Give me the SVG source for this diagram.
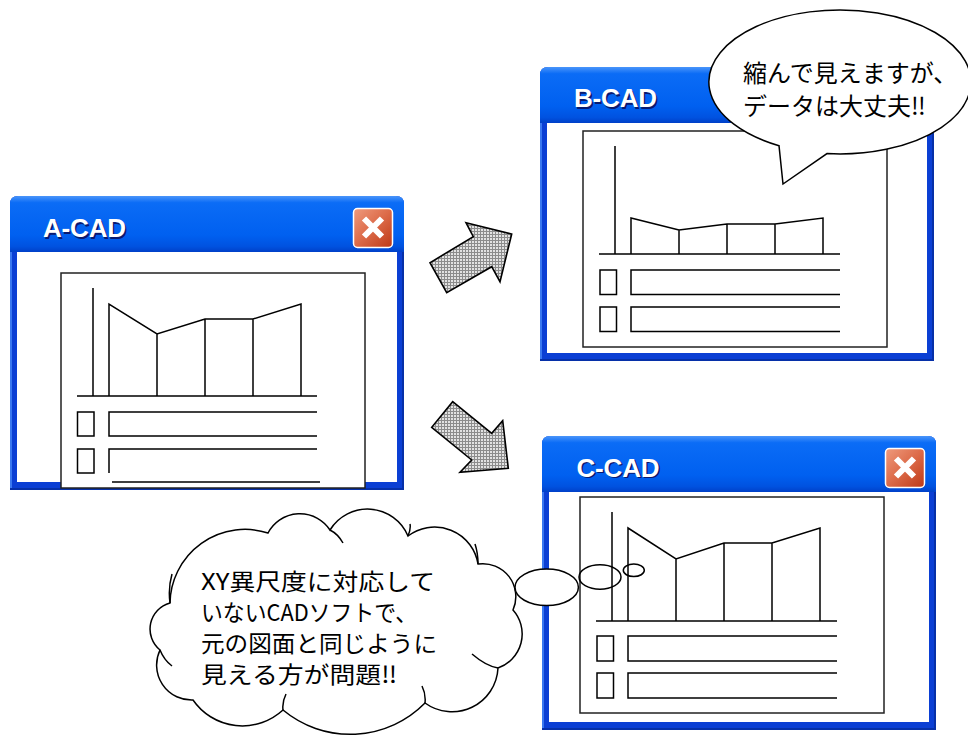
<svg xmlns="http://www.w3.org/2000/svg" width="968" height="736" viewBox="0 0 968 736">
  <defs>
    <linearGradient id="titleGrad" x1="0" y1="0" x2="0" y2="1">
      <stop offset="0" stop-color="#4a95fa"/>
      <stop offset="0.12" stop-color="#0b6cf6"/>
      <stop offset="0.7" stop-color="#0060f0"/>
      <stop offset="0.9" stop-color="#0052e0"/>
      <stop offset="1" stop-color="#0040c8"/>
    </linearGradient>
    <linearGradient id="closeGrad" x1="0" y1="0" x2="1" y2="1">
      <stop offset="0" stop-color="#ef9b7e"/>
      <stop offset="0.5" stop-color="#dc6a48"/>
      <stop offset="1" stop-color="#bd3816"/>
    </linearGradient>
    <pattern id="mesh" width="3" height="3" patternUnits="userSpaceOnUse">
      <rect width="3" height="3" fill="#e2e2e2"/>
      <path d="M0 .5H3M.5 0V3" stroke="#8c8c8c" stroke-width="1"/>
    </pattern>
    <!-- window chrome: rounded blue title bar, blue frame, white client area -->
    <g id="frame">
      <path d="M0 294V8Q0 0 8 0H386Q394 0 394 8V294Z" fill="#0b3fd4"/>
      <path d="M0 56V8Q0 0 8 0H386Q394 0 394 8V56Z" fill="url(#titleGrad)"/>
      <path d="M1 56V293" stroke="#3a78f0" stroke-width="2"/>
      <path d="M393 56V294M0 293H394" stroke="#0630a8" stroke-width="2"/>
      <rect x="7" y="56" width="380" height="230" fill="#fff"/>
    </g>
    <g id="closeBtn">
      <rect x="343.5" y="12.5" width="39" height="39" rx="4" fill="url(#closeGrad)" stroke="#fff" stroke-width="1.5"/>
      <path d="M354 22.5L372 40.5M372 22.5L354 40.5" stroke="#fff" stroke-width="6"/>
    </g>
  </defs>
  <style>
    .title { font-family: "Liberation Sans", Arial, sans-serif; font-weight: bold; font-size: 26px; }
    .shade { fill: #0a1a70; }
    .lite { fill: #fff; }
    .ln { fill: none; stroke: #000; stroke-width: 1.5; }
    .sheet { fill: #fff; stroke: #222; stroke-width: 1.5; }
    .jp { font-family: "Noto Sans CJK JP", "Noto Sans", sans-serif; font-size: 24px; fill: #000; }
    .jp.sm { font-size: 23px; }
    .callout { fill: #fff; stroke: #000; stroke-width: 1.5; }
    .arrow { fill: url(#mesh); stroke: #000; stroke-width: 1.6; stroke-linejoin: miter; }
  </style>

  <!-- A-CAD window -->
  <g id="a-cad">
    <use href="#frame" transform="translate(10,196)"/>
    <use href="#closeBtn" transform="translate(10,196)"/>
    <text class="title shade" x="44.5" y="238.5" textLength="83">A-CAD</text>
    <text class="title lite" x="43" y="237" textLength="83">A-CAD</text>
    <g transform="translate(61,273)">
      <rect class="sheet" x="0" y="0" width="304" height="215"/>
      <path class="ln" d="M32 15V123M16 123H256"/>
      <path class="ln" d="M48 123V31L96 61L144 46H192L240 31V123M96 61V123M144 46V123M192 46V123"/>
      <rect class="ln" x="16.5" y="139" width="16.5" height="24"/>
      <path class="ln" d="M256 139H48V163H256"/>
      <rect class="ln" x="16.5" y="176" width="16.5" height="24"/>
      <path class="ln" d="M256 176H48V200M51 209H259"/>
    </g>
  </g>

  <!-- B-CAD window -->
  <g id="b-cad">
    <use href="#frame" transform="translate(540,67)"/>
    <text class="title shade" x="575.5" y="108.5" textLength="83">B-CAD</text>
    <text class="title lite" x="574" y="107" textLength="83">B-CAD</text>
    <g transform="translate(583,131)">
      <rect class="sheet" x="0" y="0" width="304" height="216"/>
      <path class="ln" d="M32 15V123M16 123H257"/>
      <path class="ln" d="M48 123V87L96 99L144 93H192L240 87V123M96 99V123M144 93V123M192 93V123"/>
      <rect class="ln" x="17" y="139" width="16.5" height="24.5"/>
      <path class="ln" d="M257 139H48V163.5H257"/>
      <rect class="ln" x="17" y="176" width="16.5" height="24.5"/>
      <path class="ln" d="M257 176H48V200.5H257"/>
    </g>
  </g>

  <!-- C-CAD window -->
  <g id="c-cad">
    <use href="#frame" transform="translate(542,436)"/>
    <use href="#closeBtn" transform="translate(542,436)"/>
    <text class="title shade" x="578" y="478" textLength="83">C-CAD</text>
    <text class="title lite" x="576.5" y="476.5" textLength="83">C-CAD</text>
    <g transform="translate(580,497)">
      <rect class="sheet" x="0" y="0" width="304" height="216"/>
      <path class="ln" d="M32 15V124M16 124H257"/>
      <path class="ln" d="M48 124V31L96 62L144 46H192L240 31V124M96 62V124M144 46V124M192 46V124"/>
      <rect class="ln" x="17" y="139" width="16.5" height="25"/>
      <path class="ln" d="M257 139H48V164H257"/>
      <rect class="ln" x="17" y="176" width="16.5" height="25"/>
      <path class="ln" d="M257 176H48V201H257"/>
    </g>
  </g>

  <!-- block arrows between the windows -->
  <g id="connectors">
    <polygon class="arrow" points="466,222.7 511.7,234 500,281.7 491.7,266.7 446.7,292.7 430,262.7 473.3,236.7"/>
    <polygon class="arrow" points="452.7,401.7 491.7,433.3 502.7,420.7 508.3,468.3 460,472.3 471.7,460 431.7,427.3"/>
  </g>

  <!-- speech bubble over B-CAD -->
  <g id="bubble-b">
    <path class="callout" d="M779 145.7A131 72 0 1 1 827 153.6L783 184Z"/>
    <text class="jp" x="743" y="82">縮んで見えますが、</text>
    <text class="jp" x="743" y="115">データは大丈夫‼</text>
  </g>

  <!-- thought cloud next to C-CAD -->
  <g id="cloud-c">
    <path class="callout" d="M170 603A75 75 0 0 1 268 533A36 36 0 0 1 330 530A44 44 0 0 1 408 536A44 44 0 0 1 478 564A33 33 0 0 1 513 610A36 36 0 0 1 498 668A46 46 0 0 1 425 703A105 105 0 0 1 283 710A60 60 0 0 1 193 700A35 35 0 0 1 160 650A27 27 0 0 1 170 603Z"/>
    <!-- small inner arcs where the lobes meet -->
    <path class="ln" d="M170 603Q168 588 172 574M330 530Q338 534 343 543M408 536Q411 529 410 524M478 564Q478 553 475 544M498 668Q486 666 472 654M425 703Q426 694 422 686M283 710Q282 702 286 694M160 650Q164 660 172 666"/>
    <ellipse class="callout" cx="546.7" cy="587.3" rx="31.7" ry="18.3"/>
    <ellipse class="ln" cx="600" cy="577" rx="21" ry="12.2"/>
    <ellipse class="ln" cx="633.8" cy="570.3" rx="10.5" ry="6.3"/>
    <text class="jp sm" x="201" y="590" textLength="234" lengthAdjust="spacingAndGlyphs">XY異尺度に対応して</text>
    <text class="jp sm" x="201" y="621" textLength="216" lengthAdjust="spacingAndGlyphs">いないCADソフトで、</text>
    <text class="jp sm" x="201" y="652" textLength="236" lengthAdjust="spacingAndGlyphs">元の図面と同じように</text>
    <text class="jp sm" x="201" y="683" textLength="196" lengthAdjust="spacingAndGlyphs">見える方が問題‼</text>
  </g>
</svg>
